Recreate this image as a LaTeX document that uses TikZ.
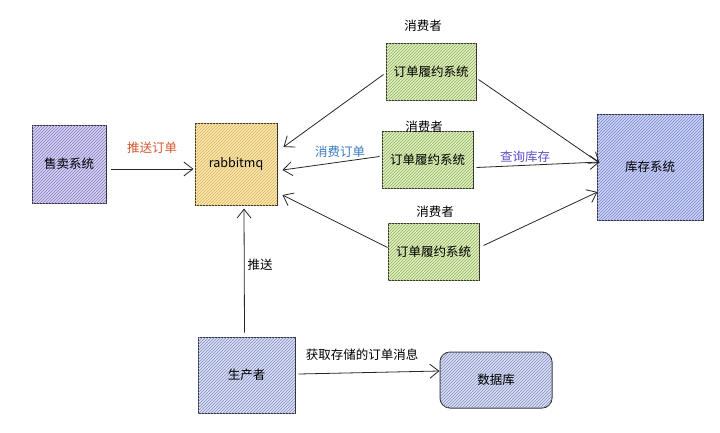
\documentclass[tikz,border=0pt]{standalone}
\usepackage{fontspec}
\setmainfont{Noto Sans CJK SC}
\usetikzlibrary{positioning, patterns, arrows.meta}

\begin{document}
\begin{tikzpicture}[
  x=1pt, y=-1pt,
  every node/.style={
    align=center,
    font=\fontsize{12.5}{14}\selectfont,
    inner sep=1pt,
  },
  sysbox/.style={
    draw=black!80,
    line width=1pt,
    inner sep=0pt,
  },
  hatch/.style={postaction={pattern=north east lines, pattern color=#1}},
  link/.style={
    draw=black!85,
    line width=0.8pt,
    -{Straight Barb[length=9pt, width=14pt]},
  },
]
  \definecolor{lavender}{RGB}{214,210,242}
  \definecolor{lavenderline}{RGB}{130,124,196}
  \definecolor{mqyellow}{RGB}{248,232,178}
  \definecolor{mqline}{RGB}{222,180,90}
  \definecolor{leafgreen}{RGB}{226,240,190}
  \definecolor{leafline}{RGB}{144,176,100}
  \definecolor{stockblue}{RGB}{206,212,244}
  \definecolor{stockline}{RGB}{118,134,212}
  \definecolor{greyblue}{RGB}{218,223,242}
  \definecolor{greyline}{RGB}{130,142,196}
  \definecolor{orangered}{RGB}{214,86,44}
  \definecolor{msgblue}{RGB}{58,120,192}
  \definecolor{querypurple}{RGB}{90,79,200}

  \useasboundingbox (0,0) rectangle (720,432);

  % systems
  \node[sysbox, fill=lavender, hatch=lavenderline,
    minimum width=74pt, minimum height=78pt] (sell) at (69,164) {售卖系统};
  \node[sysbox, fill=mqyellow, hatch=mqline,
    minimum width=82pt, minimum height=82pt] (mq) at (236,164) {rabbitmq};
  \node[sysbox, fill=stockblue, hatch=stockline,
    minimum width=106pt, minimum height=106pt] (stock) at (650,167) {库存系统};

  % consumers
  \node[sysbox, fill=leafgreen, hatch=leafline,
    minimum width=90pt, minimum height=57pt] (cons1) at (431,71.5) {订单履约系统};
  \node[sysbox, fill=leafgreen, hatch=leafline,
    minimum width=91pt, minimum height=57pt] (cons2) at (427.5,159.5) {订单履约系统};
  \node[sysbox, fill=leafgreen, hatch=leafline,
    minimum width=91pt, minimum height=57pt] (cons3) at (433.5,251.5) {订单履约系统};
  \node (tag1) at (423,26) {消费者};
  \node (tag2) at (424,127) {消费者};
  \node (tag3) at (435,212) {消费者};

  % producer and storage
  \node[sysbox, fill=greyblue, hatch=greyline,
    minimum width=97pt, minimum height=76pt] (prod) at (246.5,375) {生产者};
  \node[sysbox, fill=greyblue, hatch=greyline, rounded corners=10pt,
    minimum width=112pt, minimum height=56pt] (db) at (496,380) {数据库};

  % links
  \draw[link] ([xshift=4pt, yshift=-5pt]sell.east) -- ([xshift=-1pt, yshift=-5pt]mq.west);
  \draw[link] ([xshift=-2pt, yshift=-3pt]cons1.west) -- ([xshift=6pt, yshift=17pt]mq.east);
  \draw[link] ([xshift=-2pt, yshift=3pt]cons2.west) -- ([xshift=5pt, yshift=-6pt]mq.east);
  \draw[link] ([yshift=4pt]cons3.west) -- ([xshift=5pt, yshift=-31pt]mq.east);
  \draw[link] ([xshift=2pt, yshift=-8pt]cons1.east) -- ([xshift=3pt, yshift=4pt]stock.west);
  \draw[link] ([xshift=3pt, yshift=-8pt]cons2.east) -- ([xshift=3pt, yshift=5pt]stock.west);
  \draw[link] ([xshift=4pt, yshift=6pt]cons3.east) -- ([xshift=1pt, yshift=-25pt]stock.west);
  \draw[link] ([xshift=-2pt, yshift=4pt]prod.north) -- ([xshift=8pt, yshift=-3pt]mq.south);
  \draw[link] ([xshift=3pt, yshift=1pt]prod.east) -- ([yshift=9pt]db.west);

  % link labels
  \node[text=orangered] (lblpush) at (152,148) {推送订单};
  \node[text=msgblue] (lblconsume) at (340,152) {消费订单};
  \node[text=querypurple] (lblquery) at (525,157) {查询库存};
  \node (lblsend) at (260,265) {推送};
  \node (lblfetch) at (362,355) {获取存储的订单消息};
\end{tikzpicture}
\end{document}
